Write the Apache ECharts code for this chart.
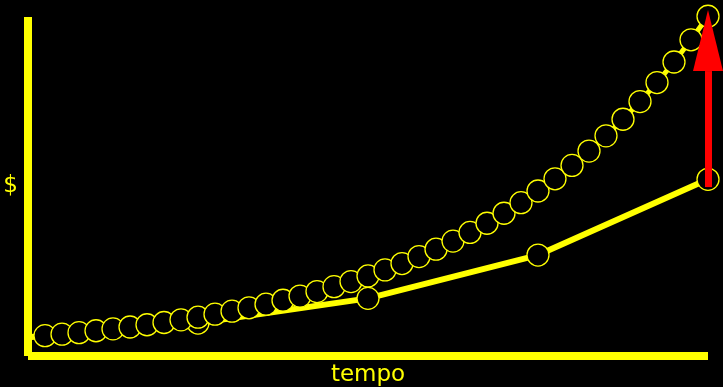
<!DOCTYPE html>
<html>
<head>
<meta charset="utf-8">
<style>
html,body{margin:0;padding:0;background:#000;}
#chart{width:723px;height:387px;}
</style>
<script src="https://cdn.jsdelivr.net/npm/echarts@6/dist/echarts.min.js"></script>
</head>
<body>
<div id="chart"></div>
<script>
// Yearly compounding (thick line)
const yearlyT = [0, 1, 2, 3, 4];
const yearlyV = [1.00, 1.75, 3.06, 5.36, 9.38];

// Frequent compounding (chain of circles)
const freqT = [0, 0.1, 0.2, 0.3, 0.4, 0.5, 0.6, 0.7, 0.8, 0.9, 1.0,
               1.1, 1.2, 1.3, 1.4, 1.5, 1.6, 1.7, 1.8, 1.9, 2.0,
               2.1, 2.2, 2.3, 2.4, 2.5, 2.6, 2.7, 2.8, 2.9, 3.0,
               3.1, 3.2, 3.3, 3.4, 3.5, 3.6, 3.7, 3.8, 3.9, 4.0];
const freqV = [1.00, 1.08, 1.16, 1.24, 1.34, 1.44, 1.54, 1.66, 1.78, 1.92, 2.06,
               2.22, 2.38, 2.56, 2.75, 2.96, 3.18, 3.42, 3.68, 3.95, 4.25,
               4.57, 4.91, 5.28, 5.67, 6.10, 6.56, 7.05, 7.58, 8.14, 8.76,
               9.41, 10.12, 10.88, 11.69, 12.57, 13.51, 14.52, 15.61, 16.79, 18.04];

// Red arrow at time 4: shaft from/to values, arrow-head centre value
const arrowT = 4;
const arrowShaft = [8.97, 15.13];
const arrowHead = 16.75;

const xName = 'tempo';
const yName = '$';
const YEL = '#ffff00';

function pts(ts, vs) {
  return ts.map((t, i) => i === 0 ? {value: [t, vs[i]], symbol: 'none'} : [t, vs[i]]);
}

const chart = echarts.init(document.getElementById('chart'), null, {renderer: 'canvas'});
chart.setOption({
  backgroundColor: '#000',
  animation: false,
  grid: {left: 28, right: 15, top: 17, bottom: 31, containLabel: false, outerBoundsMode: 'none'},
  xAxis: {
    type: 'value', min: 0, max: 4,
    name: xName, nameLocation: 'middle', nameGap: 8,
    nameTextStyle: {color: YEL, fontSize: 23, fontFamily: 'DejaVu Sans'},
    axisLine: {show: true, onZero: false, lineStyle: {color: YEL, width: 8, cap: 'butt'}},
    axisTick: {show: false}, axisLabel: {show: false}, splitLine: {show: false}
  },
  yAxis: {
    type: 'value', min: 0, max: 18,
    name: yName, nameLocation: 'middle', nameGap: 10, nameRotate: 0,
    nameTextStyle: {color: YEL, fontSize: 23, fontFamily: 'DejaVu Sans', padding: [4, 0, 0, 0]},
    axisLine: {show: true, lineStyle: {color: YEL, width: 8, cap: 'butt'}},
    axisTick: {show: false}, axisLabel: {show: false}, splitLine: {show: false}
  },
  series: [
    {
      type: 'line', data: pts(yearlyT, yearlyV), clip: false,
      symbol: 'circle', symbolSize: 22, showAllSymbol: true,
      lineStyle: {color: YEL, width: 6},
      itemStyle: {color: '#000', borderColor: YEL, borderWidth: 1.3},
      silent: true, z: 2
    },
    {
      type: 'line', data: pts(freqT, freqV), clip: false,
      symbol: 'circle', symbolSize: 22, showAllSymbol: true,
      lineStyle: {color: YEL, width: 5},
      itemStyle: {color: '#000', borderColor: YEL, borderWidth: 1.3},
      silent: true, z: 3
    },
    {
      type: 'line', data: [], silent: true, z: 5, clip: false,
      markLine: {
        silent: true, symbol: ['none', 'none'], label: {show: false},
        lineStyle: {color: '#ff0000', width: 7, type: 'solid'},
        data: [[{coord: [arrowT, arrowShaft[0]]}, {coord: [arrowT, arrowShaft[1]]}]]
      },
      markPoint: {
        silent: true, symbol: 'triangle', symbolSize: [30, 61],
        itemStyle: {color: '#ff0000'}, label: {show: false},
        data: [{coord: [arrowT, arrowHead]}]
      }
    }
  ]
});
</script>
</body>
</html>
